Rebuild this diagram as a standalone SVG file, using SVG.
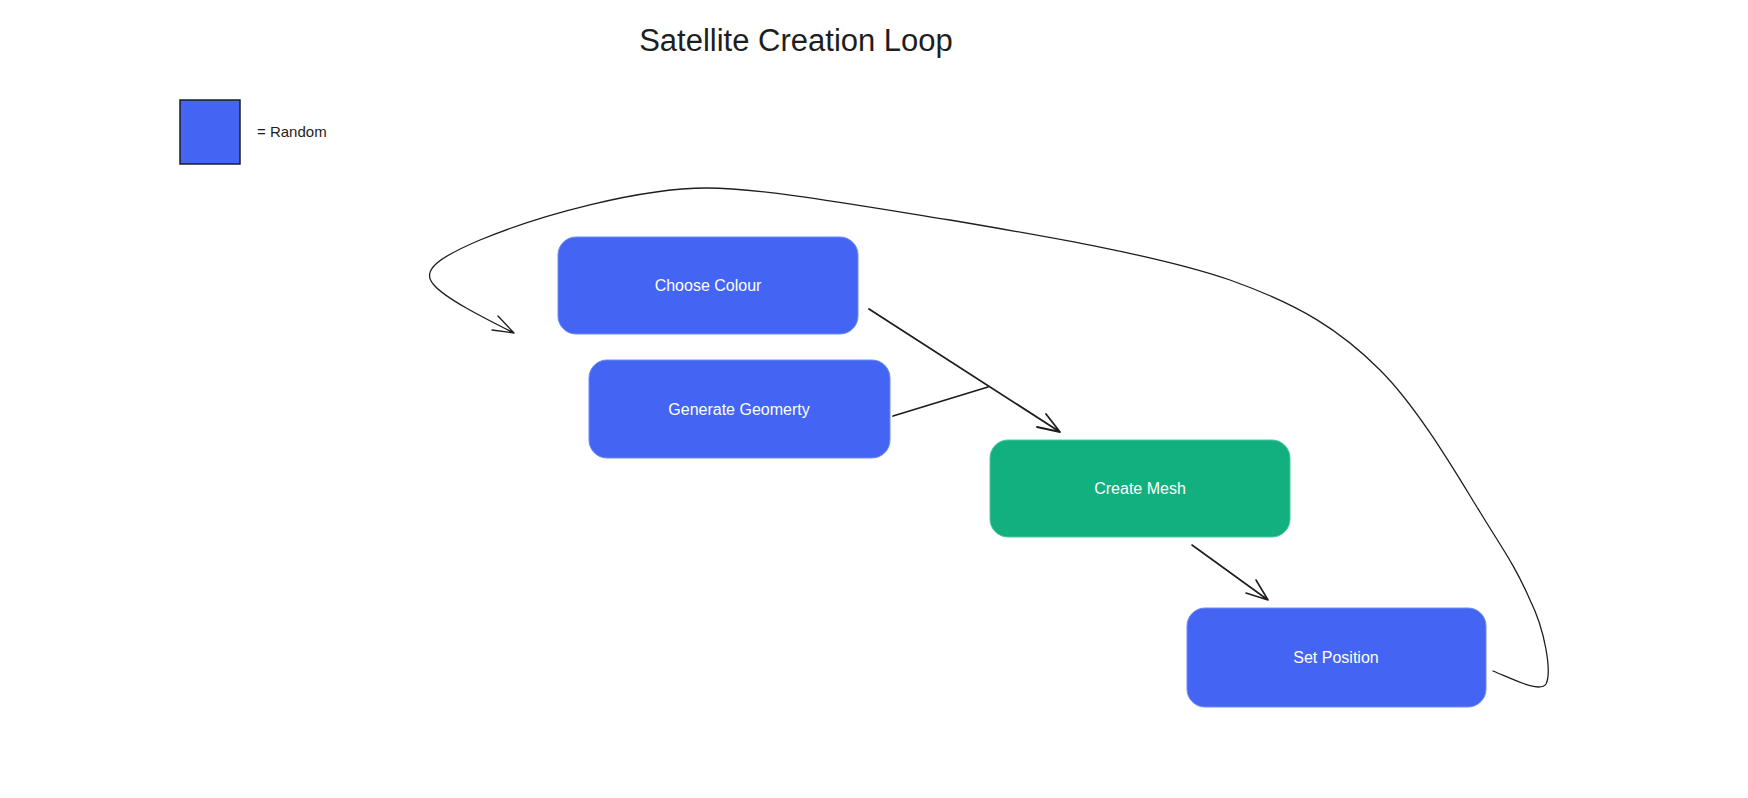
<svg xmlns="http://www.w3.org/2000/svg" width="1748" height="798" viewBox="0 0 1748 798">
<style>
.bg{fill:#ffffff}
.blue{fill:#4465f3;stroke:#6f8af5;stroke-width:1}
.green{fill:#12b07e;stroke:#4fc7a0;stroke-width:1}
.lbl{font-family:"Liberation Sans",Arial,sans-serif;font-size:16px;fill:#ffffff;text-anchor:middle}
.dark{font-family:"Liberation Sans",Arial,sans-serif;fill:#1e1e1e}
.ln{fill:none;stroke:#1e1e1e;stroke-linecap:round;stroke-linejoin:round}
</style>
<rect class="bg" x="0" y="0" width="1748" height="798"/>
<g id="title">
<text class="dark" x="796" y="51" font-size="31" text-anchor="middle">Satellite Creation Loop</text>
</g>
<g id="legend">
<rect x="180" y="100" width="60" height="64" fill="#4465f3" stroke="#1e1e1e" stroke-width="1.5"/>
<text class="dark" x="257" y="137" font-size="15">= Random</text>
</g>
<g id="connectors">
<path class="ln" stroke-width="1.8" d="M869,309 L1060,432 M1046,414 L1060,432 L1037,427"/>
<path class="ln" stroke-width="1.8" d="M893,416 L988,387"/>
<path class="ln" stroke-width="1.6" d="M1192,545 L1268,600 M1256,580 L1268,600 L1246,593"/>
<path class="ln" stroke-width="1.3" d="M1493,671 C1515,680 1540,693 1546,684 C1552,672 1545,630 1530,600 C1515,565 1500,545 1480,512 C1460,480 1420,410 1380,370 C1340,330 1300,305 1230,280 C1160,256 1050,237 950,220 C850,204 760,188 707,188 C640,188 540,215 480,240 C440,257 420,270 434,285 C445,298 480,316 514,333 M498,316 L514,333 L492,330"/>
</g>
<g id="node-choose-colour">
<rect class="blue" x="558" y="237" width="300" height="97" rx="18"/>
<text class="lbl" x="708" y="291">Choose Colour</text>
</g>
<g id="node-generate-geometry">
<rect class="blue" x="589" y="360" width="301" height="98" rx="18"/>
<text class="lbl" x="739" y="415">Generate Geomerty</text>
</g>
<g id="node-create-mesh">
<rect class="green" x="990" y="440" width="300" height="97" rx="18"/>
<text class="lbl" x="1140" y="494">Create Mesh</text>
</g>
<g id="node-set-position">
<rect class="blue" x="1187" y="608" width="299" height="99" rx="18"/>
<text class="lbl" x="1336" y="663">Set Position</text>
</g>
</svg>
